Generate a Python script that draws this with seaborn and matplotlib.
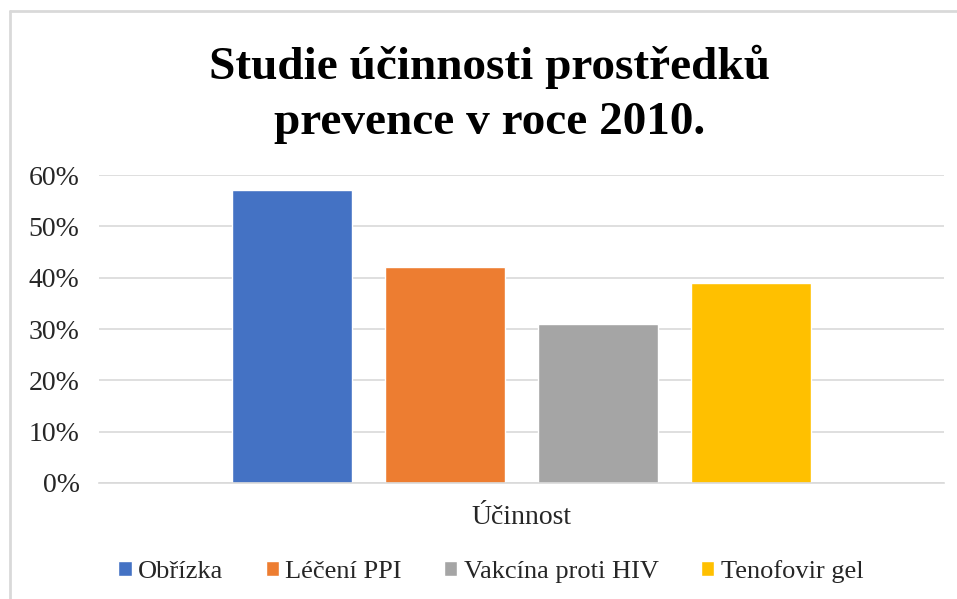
import pandas as pd
import matplotlib.pyplot as plt
import seaborn as sns
from matplotlib.lines import Line2D
from matplotlib.ticker import PercentFormatter

# data
category = ["Účinnost"]
series = ["Obřízka", "Léčení PPI", "Vakcína proti HIV", "Tenofovir gel"]
values = [0.57, 0.42, 0.31, 0.39]
colors = ["#4472C4", "#ED7D31", "#A5A5A5", "#FFC000"]

df = pd.DataFrame({
    "kategorie": category * len(series),
    "serie": series,
    "hodnota": values,
})

sns.set_style("white")
plt.rcParams["font.family"] = ["Liberation Serif", "DejaVu Serif"]

fig = plt.figure(figsize=(9.57, 5.99), dpi=100)
ax = fig.add_axes([0.1034, 0.1937, 0.8830, 0.5141])

sns.barplot(
    data=df,
    x="kategorie",
    y="hodnota",
    hue="serie",
    hue_order=series,
    palette=colors,
    width=0.724,
    gap=0.216,
    saturation=1,
    ax=ax,
)

ax.set_xlim(-0.5, 0.5)
ax.set_ylim(0, 0.6)
ax.set_yticks([0, 0.1, 0.2, 0.3, 0.4, 0.5, 0.6])
ax.yaxis.set_major_formatter(PercentFormatter(1.0, decimals=0))
ax.grid(axis="y", color="#d9d9d9", linewidth=1.2)
ax.set_axisbelow(True)
for s in ["top", "right", "left"]:
    ax.spines[s].set_visible(False)
ax.spines["bottom"].set_color("#d9d9d9")
ax.spines["bottom"].set_linewidth(1.2)
ax.tick_params(axis="both", length=0, labelsize=20, colors="#262626")
ax.tick_params(axis="y", pad=14)
ax.tick_params(axis="x", pad=16)
ax.set_xlabel("")
ax.set_ylabel("")

leg = ax.legend(
    loc="center",
    bbox_to_anchor=(0.513, 0.046),
    bbox_transform=fig.transFigure,
    ncol=4,
    frameon=False,
    fontsize=19,
    handlelength=0.5,
    handleheight=0.5,
    handletextpad=0.25,
    columnspacing=1.6,
)
for t in leg.get_texts():
    t.set_color("#262626")

fig.text(0.512, 0.843, "Studie účinnosti prostředků\nprevence v roce 2010.",
         ha="center", va="center", fontsize=34, fontweight="bold",
         linespacing=1.4, color="black")

# chart frame (only top and left edges are visible in the crop)
fig.add_artist(Line2D([0.0105, 1.0], [0.982, 0.982], color="#d9d9d9", linewidth=2))
fig.add_artist(Line2D([0.0105, 0.0105], [0.0, 0.982], color="#d9d9d9", linewidth=2))

fig.savefig("out.png", dpi=100)
